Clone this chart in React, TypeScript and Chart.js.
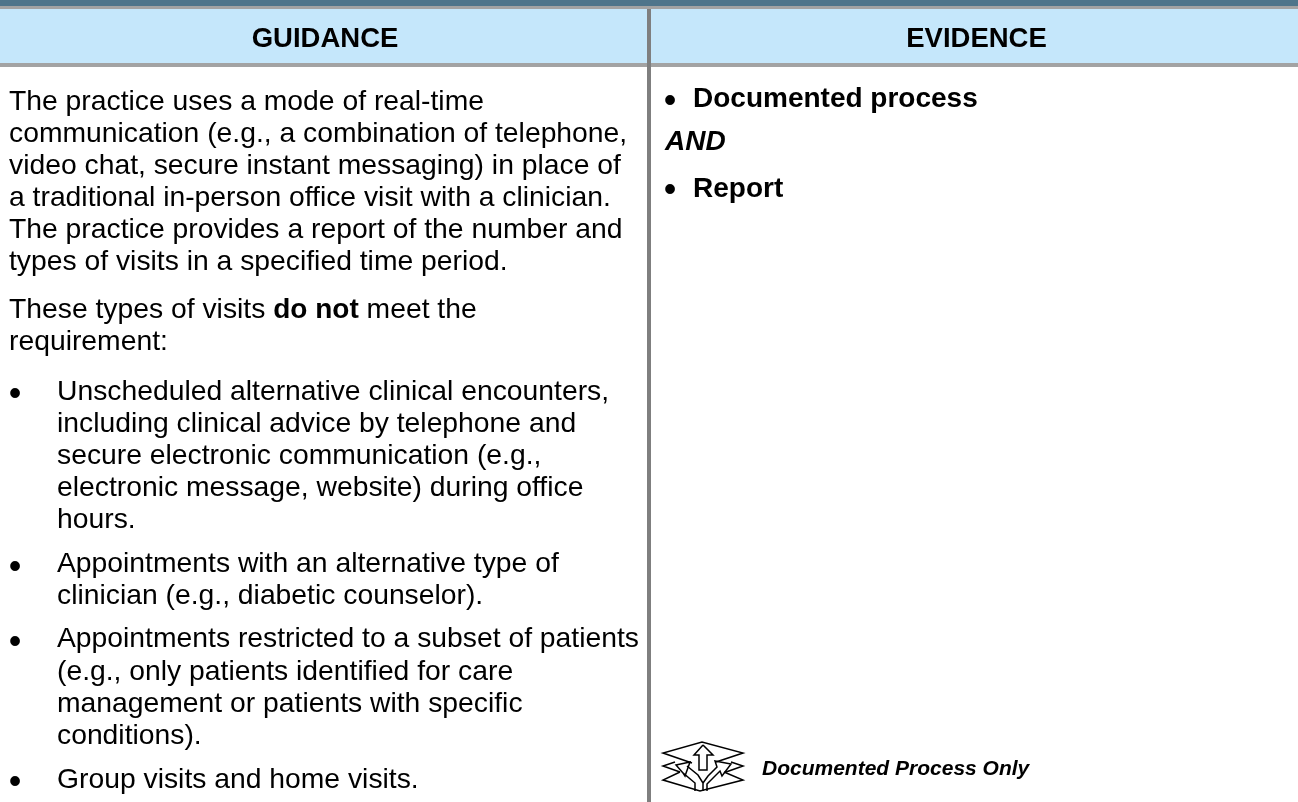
import React, { useEffect, useRef } from "react";
import { Chart, registerables } from "chart.js";

Chart.register(...registerables);

const FONT = '"Liberation Sans", Arial, sans-serif';

const headers = ["GUIDANCE", "EVIDENCE"];
const headerCenters = [325, 976.5];

const leftLines: [number, number, string, string?, string?][] = [
  [9, 110, "The practice uses a mode of real-time"],
  [9, 142, "communication (e.g., a combination of telephone,"],
  [9, 174, "video chat, secure instant messaging) in place of"],
  [9, 206, "a traditional in-person office visit with a clinician."],
  [9, 238, "The practice provides a report of the number and"],
  [9, 270, "types of visits in a specified time period."],
  [9, 318, "These types of visits ", "do not", " meet the"],
  [9, 350, "requirement:"],
  [57, 400, "Unscheduled alternative clinical encounters,"],
  [57, 432, "including clinical advice by telephone and"],
  [57, 464, "secure electronic communication (e.g.,"],
  [57, 496, "electronic message, website) during office"],
  [57, 528, "hours."],
  [57, 572, "Appointments with an alternative type of"],
  [57, 604, "clinician (e.g., diabetic counselor)."],
  [57, 647, "Appointments restricted to a subset of patients"],
  [57, 680, "(e.g., only patients identified for care"],
  [57, 712, "management or patients with specific"],
  [57, 744, "conditions)."],
  [57, 788, "Group visits and home visits."],
];
const leftBullets = [405, 578, 653, 793];

const evidenceBold = [
  [693, 107, "Documented process"],
  [693, 197, "Report"],
];
const evidenceBullets = [112, 201];
const evidenceAnd = "AND";
const footnote = "Documented Process Only";

const iconPaths: [number, number][][] = [
  [[692, 763], [663, 753], [702, 742], [743, 753], [716, 762]],
  [[675, 762], [663, 766], [680, 772]],
  [[731, 762], [743, 766], [726, 772]],
  [[680, 772], [663, 780], [700, 791], [743, 780], [724, 772]],
  [[703, 745], [694, 755], [699, 755], [699, 770], [707, 770], [707, 755], [713, 755], [703, 745]],
  [[695, 791], [695, 783], [683, 773], [685, 776], [690, 762], [676, 765], [683, 773]],
  [[687, 766], [698, 775], [703, 783], [703, 791]],
  [[707, 791], [707, 784], [720, 771], [722, 776], [731, 764], [715, 761], [717, 767], [708, 776], [703, 783]],
];

const plugin = {
  id: "tablePage",
  beforeDatasetsDraw(chart: any) {
    const { ctx, scales } = chart;
    const X = (v: number) => scales.x.getPixelForValue(v);
    const Y = (v: number) => scales.y.getPixelForValue(v);
    const rect = (x0: number, y0: number, x1: number, y1: number, c: string) => {
      ctx.fillStyle = c;
      ctx.fillRect(X(x0), Y(y0), X(x1) - X(x0), Y(y1) - Y(y0));
    };
    ctx.save();
    rect(0, 0, 1298, 802, "#ffffff");
    rect(0, 0, 1298, 6, "#4f758b");
    rect(0, 6, 1298, 9, "#a3a3a3");
    rect(0, 9, 1298, 63, "#c5e7fb");
    rect(0, 63, 1298, 67, "#a3a3a3");
    rect(647, 9, 651, 802, "#7f7f7f");

    ctx.textBaseline = "alphabetic";
    ctx.fillStyle = "#000000";
    ctx.textAlign = "center";
    ctx.font = `bold 27.5px ${FONT}`;
    headers.forEach((h, i) => ctx.fillText(h, X(headerCenters[i]), Y(46.5)));

    ctx.textAlign = "left";
    const reg = `28.3px ${FONT}`;
    const bold = `bold 28px ${FONT}`;
    leftLines.forEach(([x, y, a, b, c]) => {
      ctx.font = reg;
      let cx = X(x);
      ctx.fillText(a, cx, Y(y));
      cx += ctx.measureText(a).width;
      if (b) {
        ctx.font = bold;
        ctx.fillText(b, cx, Y(y));
        cx += ctx.measureText(b).width;
      }
      if (c) {
        ctx.font = reg;
        ctx.fillText(c, cx, Y(y));
      }
    });
    ctx.font = `36px ${FONT}`;
    leftBullets.forEach((y) => ctx.fillText("•", X(8.7), Y(y)));
    evidenceBullets.forEach((y) => ctx.fillText("•", X(663.7), Y(y)));

    ctx.font = bold;
    evidenceBold.forEach(([x, y, t]) => ctx.fillText(t as string, X(x as number), Y(y as number)));
    ctx.font = `italic bold 28px ${FONT}`;
    ctx.fillText(evidenceAnd, X(665), Y(150));
    ctx.font = `italic bold 21px ${FONT}`;
    ctx.fillText(footnote, X(762), Y(775));
    ctx.restore();
  },
};

export default function App() {
  const ref = useRef<HTMLCanvasElement>(null);
  useEffect(() => {
    document.body.style.margin = "0";
    const chart = new Chart(ref.current!, {
      type: "scatter",
      data: {
        datasets: iconPaths.map((p) => ({
          data: p.map(([x, y]) => ({ x, y })),
          showLine: true,
          borderColor: "#000000",
          borderWidth: 1.5,
          pointRadius: 0,
          tension: 0,
        })),
      },
      options: {
        animation: false,
        responsive: false,
        layout: { padding: 0 },
        plugins: { legend: { display: false }, tooltip: { enabled: false } },
        scales: {
          x: { type: "linear", min: 0, max: 1298, display: false },
          y: { type: "linear", min: 0, max: 802, reverse: true, display: false },
        },
      },
      plugins: [plugin],
    });
    return () => chart.destroy();
  }, []);
  return <canvas ref={ref} width={1298} height={802} style={{ display: "block", width: 1298, height: 802 }} />;
}
